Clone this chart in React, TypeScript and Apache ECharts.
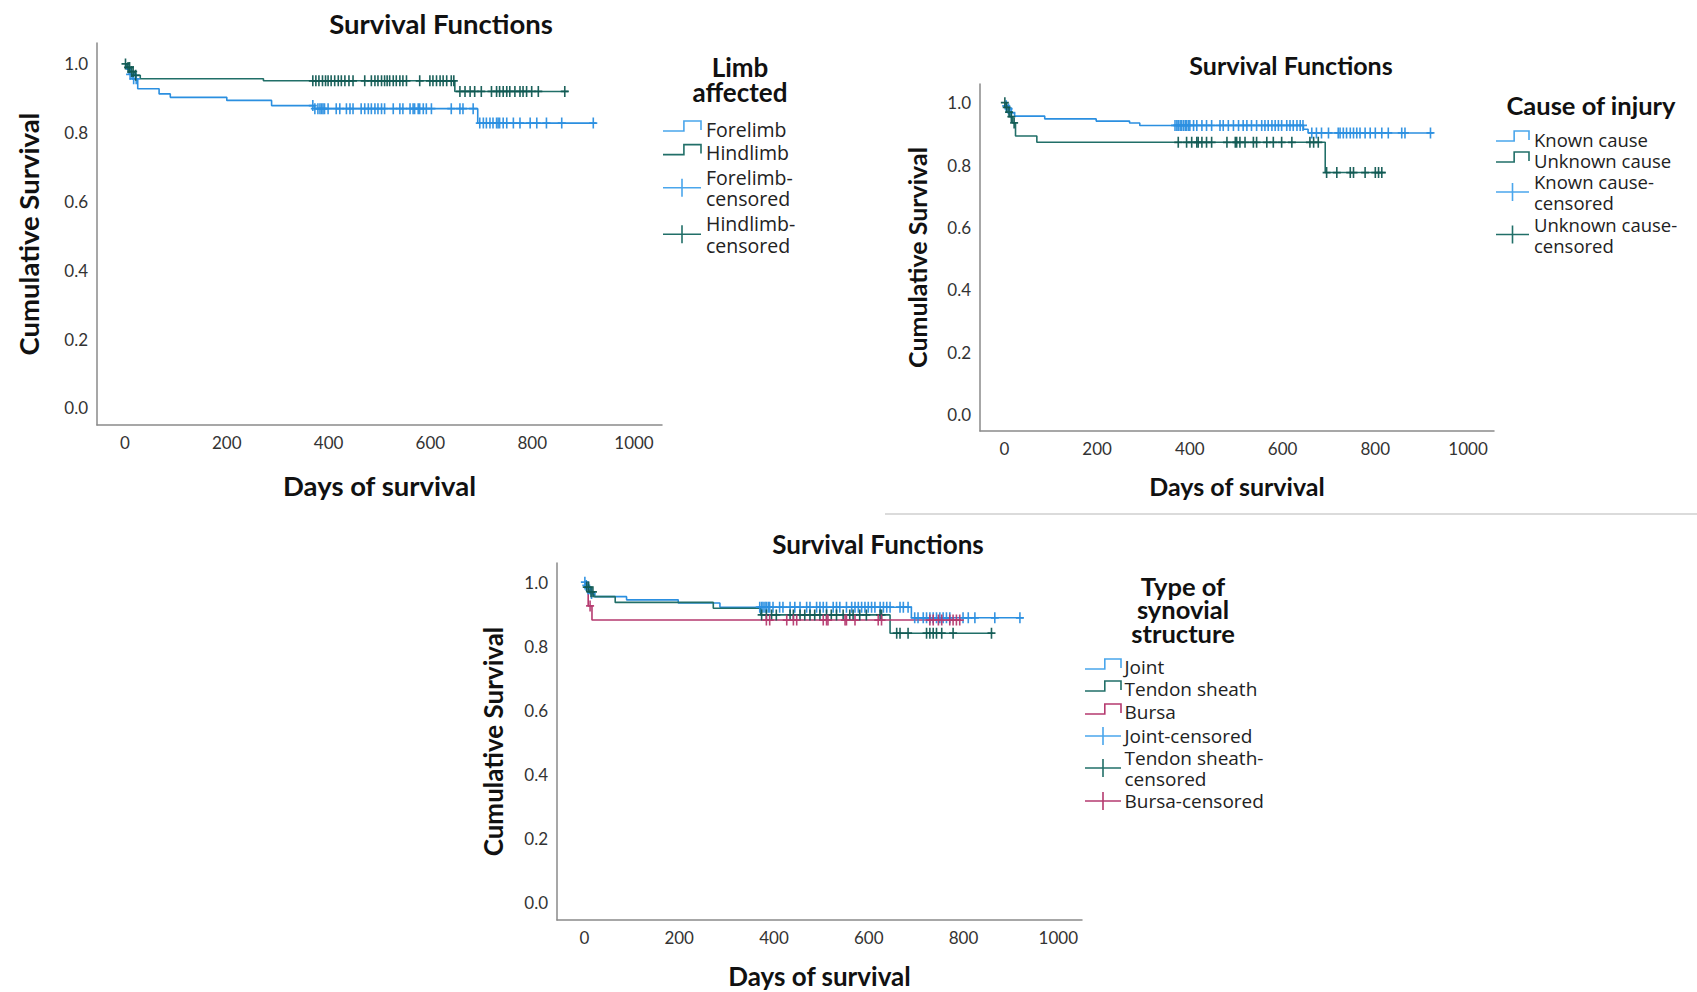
import React, { useEffect, useRef } from "react";
import * as echarts from "echarts";

// ---------- tick labels ----------
const dayTicks = [0, 200, 400, 600, 800, 1000];
const survTicks = [0, 0.2, 0.4, 0.6, 0.8, 1.0];

// ---------- Chart 1: Limb affected ----------
const foreEvents: [number, number][] = [[0, 1], [3, 0.985], [8, 0.97], [14, 0.957], [25, 0.928], [67, 0.913], [89, 0.903], [200, 0.894], [288, 0.879], [372, 0.87], [693, 0.828]];
const foreEnd = 926;
const foreCensored = [10, 17, 22, 369, 373, 379, 383, 386, 389, 392, 399, 415, 422, 435, 442, 448, 464, 471, 478, 484, 491, 497, 504, 510, 527, 540, 546, 560, 566, 569, 576, 579, 586, 592, 602, 641, 658, 664, 684, 697, 704, 710, 717, 723, 730, 733, 736, 743, 750, 763, 776, 796, 809, 828, 858, 920];
const hindEvents: [number, number][] = [[0, 1], [4, 0.99], [10, 0.978], [18, 0.967], [30, 0.957], [272, 0.951], [648, 0.92]];
const hindEnd = 871;
const hindCensored = [1, 6, 9, 13, 16, 21, 369, 375, 381, 388, 394, 399, 405, 412, 419, 425, 432, 440, 448, 471, 484, 491, 497, 504, 510, 515, 520, 527, 533, 540, 546, 553, 579, 599, 605, 612, 619, 625, 632, 641, 646, 658, 668, 678, 687, 700, 720, 730, 736, 743, 750, 756, 766, 776, 782, 789, 799, 812, 864];

// ---------- Chart 2: Cause of injury ----------
const knownEvents: [number, number][] = [[0, 1], [2, 0.99], [6, 0.98], [12, 0.968], [22, 0.957], [87, 0.948], [198, 0.941], [270, 0.935], [292, 0.927], [645, 0.915], [655, 0.903]];
const knownEnd = 925;
const knownCensored = [4, 9, 15, 368, 372, 375, 379, 382, 386, 390, 393, 397, 400, 408, 415, 426, 436, 447, 465, 472, 483, 494, 505, 515, 523, 533, 544, 555, 562, 569, 577, 584, 591, 598, 609, 616, 623, 631, 638, 644, 663, 673, 684, 699, 720, 724, 731, 738, 746, 753, 760, 767, 778, 789, 800, 814, 828, 857, 864, 919];
const unknownEvents: [number, number][] = [[0, 1], [3, 0.985], [8, 0.97], [12, 0.955], [18, 0.935], [24, 0.893], [70, 0.873], [692, 0.776]];
const unknownEnd = 822;
const unknownCensored = [1, 5, 10, 15, 21, 375, 393, 404, 415, 418, 426, 436, 447, 480, 498, 501, 508, 519, 537, 544, 566, 580, 598, 620, 659, 667, 677, 695, 717, 746, 753, 778, 800, 807, 814];

// ---------- Chart 3: Type of synovial structure ----------
const jointEvents: [number, number][] = [[0, 1], [2, 0.99], [6, 0.98], [12, 0.965], [22, 0.955], [89, 0.945], [198, 0.935], [286, 0.922], [690, 0.889]];
const jointEnd = 926;
const jointCensored = [1, 4, 8, 15, 370, 374, 377, 381, 384, 388, 391, 398, 412, 419, 434, 444, 455, 469, 476, 490, 497, 504, 511, 525, 532, 539, 553, 564, 571, 578, 585, 592, 599, 606, 613, 624, 631, 638, 645, 666, 673, 683, 697, 704, 715, 722, 729, 736, 743, 750, 757, 764, 771, 799, 810, 824, 866, 919];
const tendonEvents: [number, number][] = [[0, 1], [3, 0.985], [10, 0.97], [20, 0.955], [65, 0.937], [272, 0.919], [372, 0.898], [645, 0.841]];
const tendonEnd = 862;
const tendonCensored = [5, 9, 14, 18, 374, 384, 395, 405, 434, 441, 455, 465, 476, 486, 497, 511, 521, 532, 546, 560, 567, 581, 595, 624, 627, 659, 666, 683, 722, 729, 736, 743, 754, 778, 859];
const bursaEvents: [number, number][] = [[0, 1], [8, 0.926], [16, 0.882]];
const bursaEnd = 795;
const bursaCensored = [12, 384, 391, 427, 441, 448, 504, 511, 514, 550, 553, 571, 620, 627, 729, 736, 747, 754, 771, 778, 785, 792];

const BLUE = "#2b8fe0";
const BLUE_LEG = "#4aa6ec";
const TEAL = "#216f68";
const TEAL_CENS = "#115a53";
const CRIMSON = "#b53a6f";

const CROSS = "path://M3.2,0h1.6v4.2h3.2v1.6h-3.2v4.2h-1.6v-4.2h-3.2v-1.6h3.2z";

const TITLE_FONT = "Lato";
const TICK_FONT = "Lato";
const LEG_FONT = "Open Sans";

function survAt(events: [number, number][], day: number) {
  let s = events[0][1];
  for (const [t, v] of events) if (t <= day) s = v;
  return s;
}

function kmSeries(name: string, events: [number, number][], end: number, censored: number[], color: string, censColor: string, gi: number) {
  const last = events[events.length - 1][1];
  return [
    {
      name,
      type: "line",
      xAxisIndex: gi,
      yAxisIndex: gi,
      step: "end",
      showSymbol: false,
      symbol: "none",
      lineStyle: { color, width: 1.6 },
      data: [...events, [end, last]],
      z: 2,
    },
    {
      name: name + "-censored",
      type: "scatter",
      xAxisIndex: gi,
      yAxisIndex: gi,
      symbol: CROSS,
      symbolSize: [8, 11],
      itemStyle: { color: censColor, opacity: 0.95 },
      data: censored.map((d) => [d, survAt(events, d)]),
      z: 3,
    },
  ];
}

function axes(gi: number, xMin: number, xMax: number, yMin: number, yMax: number, xGap: number, yGap: number, nameSize: number) {
  const common = {
    gridIndex: gi,
    type: "value",
    axisLine: { show: true, onZero: false, lineStyle: { color: "#8a8a8a", width: 1.5 } },
    axisTick: { show: false },
    splitLine: { show: false },
    nameLocation: "middle",
    nameTextStyle: { fontFamily: TITLE_FONT, fontWeight: "bold", fontSize: nameSize, color: "#111" },
  };
  return {
    x: {
      ...common,
      min: xMin,
      max: xMax,
      name: "Days of survival",
      nameGap: xGap,
      axisLabel: { customValues: dayTicks, formatter: (v: number) => String(v), color: "#333", fontFamily: TICK_FONT, fontSize: 17, margin: 9 },
    },
    y: {
      ...common,
      min: yMin,
      max: yMax,
      name: "Cumulative Survival",
      nameGap: yGap,
      axisLabel: { customValues: survTicks, formatter: (v: number) => v.toFixed(1), color: "#333", fontFamily: TICK_FONT, fontSize: 17, margin: 9 },
    },
  };
}

type LegItem = { kind: "step" | "plus"; color: string; lines: string[]; ys: number[] };

function legend(titleLines: string[], titleYs: number[], titleCx: number, titleSize: number, iconX: number, iconW: number, textX: number, fontSize: number, items: LegItem[]) {
  const els: any[] = [];
  const tcy = titleYs.reduce((a, b) => a + b, 0) / titleYs.length;
  const tlh = titleYs.length > 1 ? titleYs[1] - titleYs[0] : titleSize * 1.2;
  els.push({
    type: "text",
    x: titleCx,
    y: tcy,
    style: { text: titleLines.join("\n"), lineHeight: tlh, fontFamily: TITLE_FONT, fontWeight: "bold", fontSize: titleSize, fill: "#111", align: "center", verticalAlign: "middle" },
  });
  items.forEach((it) => {
    const cy = it.ys.reduce((a, b) => a + b, 0) / it.ys.length;
    const lh = it.ys.length > 1 ? it.ys[1] - it.ys[0] : fontSize * 1.2;
    els.push({
      type: "text",
      x: textX,
      y: cy,
      style: { text: it.lines.join("\n"), lineHeight: lh, fontFamily: LEG_FONT, fontSize, fill: "#222", align: "left", verticalAlign: "middle" },
    });
    if (it.kind === "step") {
      const stepX = iconX + iconW * 0.55;
      els.push({
        type: "polyline",
        shape: { points: [[iconX, cy + 2], [stepX, cy + 2], [stepX, cy - 8], [iconX + iconW, cy - 8], [iconX + iconW, cy + 1]] },
        style: { stroke: it.color, lineWidth: 1.6, fill: null },
      });
    } else {
      const mx = iconX + iconW * 0.5;
      els.push({ type: "line", shape: { x1: iconX, y1: cy, x2: iconX + iconW, y2: cy }, style: { stroke: it.color, lineWidth: 1.6 } });
      els.push({ type: "line", shape: { x1: mx, y1: cy - 9, x2: mx, y2: cy + 9 }, style: { stroke: it.color, lineWidth: 1.6 } });
    }
  });
  return els;
}

export default function App() {
  const ref = useRef<HTMLDivElement>(null);
  useEffect(() => {
    if (!ref.current) return;
    const chart = echarts.init(ref.current, undefined, { renderer: "svg" });
    const a1 = axes(0, -55, 1055, -0.05, 1.061, 46, 55, 27.5);
    const a2 = axes(1, -52.6, 1056, -0.053, 1.06, 42, 51, 25);
    const a3 = axes(2, -57.8, 1050, -0.054, 1.06, 43, 51, 26);

    const titleStyle = (size: number) => ({ fontFamily: TITLE_FONT, fontWeight: "bold", fontSize: size, fill: "#111", align: "center", verticalAlign: "middle" });

    const graphics: any[] = [
      { type: "text", x: 441, y: 23, style: { text: "Survival Functions", ...titleStyle(27.5) } },
      { type: "text", x: 1291, y: 65, style: { text: "Survival Functions", ...titleStyle(25) } },
      { type: "text", x: 878, y: 544, style: { text: "Survival Functions", ...titleStyle(26) } },
      { type: "line", shape: { x1: 885, y1: 514, x2: 1697, y2: 514 }, style: { stroke: "#cfcfcf", lineWidth: 1.5 } },
      ...legend(["Limb", "affected"], [67, 92], 740, 26, 663, 38, 706, 19.5, [
        { kind: "step", color: BLUE_LEG, lines: ["Forelimb"], ys: [129] },
        { kind: "step", color: TEAL, lines: ["Hindlimb"], ys: [152.6] },
        { kind: "plus", color: BLUE_LEG, lines: ["Forelimb-", "censored"], ys: [177, 198.5] },
        { kind: "plus", color: TEAL, lines: ["Hindlimb-", "censored"], ys: [223.5, 245] },
      ]),
      ...legend(["Cause of injury"], [105], 1591, 25.5, 1496, 33, 1534, 18.5, [
        { kind: "step", color: BLUE_LEG, lines: ["Known cause"], ys: [139] },
        { kind: "step", color: TEAL, lines: ["Unknown cause"], ys: [160] },
        { kind: "plus", color: BLUE_LEG, lines: ["Known cause-", "censored"], ys: [181.5, 202.5] },
        { kind: "plus", color: TEAL, lines: ["Unknown cause-", "censored"], ys: [224, 245] },
      ]),
      ...legend(["Type of", "synovial", "structure"], [585.5, 609, 633], 1183, 25.5, 1085, 36, 1124.5, 19, [
        { kind: "step", color: BLUE_LEG, lines: ["Joint"], ys: [667] },
        { kind: "step", color: TEAL, lines: ["Tendon sheath"], ys: [689] },
        { kind: "step", color: CRIMSON, lines: ["Bursa"], ys: [712] },
        { kind: "plus", color: BLUE_LEG, lines: ["Joint-censored"], ys: [736] },
        { kind: "plus", color: TEAL, lines: ["Tendon sheath-", "censored"], ys: [757.5, 778.5] },
        { kind: "plus", color: CRIMSON, lines: ["Bursa-censored"], ys: [801] },
      ]),
    ];

    chart.setOption({
      animation: false,
      backgroundColor: "#ffffff",
      grid: [
        { left: 97, top: 43, width: 565, height: 382 },
        { left: 980, top: 84, width: 514, height: 347 },
        { left: 557, top: 563, width: 525, height: 357 },
      ],
      xAxis: [a1.x, a2.x, a3.x],
      yAxis: [a1.y, a2.y, a3.y],
      series: [
        ...kmSeries("Forelimb", foreEvents, foreEnd, foreCensored, BLUE, BLUE, 0),
        ...kmSeries("Hindlimb", hindEvents, hindEnd, hindCensored, TEAL, TEAL_CENS, 0),
        ...kmSeries("Known cause", knownEvents, knownEnd, knownCensored, BLUE, BLUE, 1),
        ...kmSeries("Unknown cause", unknownEvents, unknownEnd, unknownCensored, TEAL, TEAL_CENS, 1),
        ...kmSeries("Joint", jointEvents, jointEnd, jointCensored, BLUE, BLUE, 2),
        ...kmSeries("Tendon sheath", tendonEvents, tendonEnd, tendonCensored, TEAL, TEAL_CENS, 2),
        ...kmSeries("Bursa", bursaEvents, bursaEnd, bursaCensored, CRIMSON, CRIMSON, 2),
      ],
      graphic: graphics,
    });
    return () => chart.dispose();
  }, []);
  return <div ref={ref} style={{ position: "absolute", left: 0, top: 0, width: 1697, height: 992 }} />;
}
